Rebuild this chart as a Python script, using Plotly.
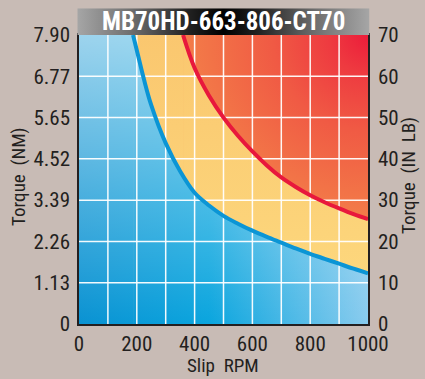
import base64
import plotly.graph_objects as go

# ---- data ----
rpm_blue = [187, 200, 225, 250, 300, 350, 400, 450, 500, 550, 600, 650, 700, 750, 800, 850, 900, 950, 1000]
torque_blue = [70, 66.3, 59.2, 53.0, 43.8, 37.0, 31.8, 28.7, 26.2, 24.3, 22.6, 21.1, 19.7, 18.3, 17.0, 15.8, 14.6, 13.4, 12.3]
rpm_red = [360, 400, 450, 500, 550, 600, 650, 700, 750, 800, 850, 900, 950, 1000]
torque_red = [70, 62.0, 55.3, 50.0, 45.6, 41.8, 38.4, 35.5, 33.2, 31.2, 29.5, 28.0, 26.6, 25.4]

x_ticks = [0, 200, 400, 600, 800, 1000]
x_grid = [0, 100, 200, 300, 400, 500, 600, 700, 800, 900, 1000]
y_ticks = [0, 10, 20, 30, 40, 50, 60, 70]
nm_labels = ["0", "1.13", "2.26", "3.39", "4.52", "5.65", "6.77", "7.90"]
inlb_labels = ["0", "10", "20", "30", "40", "50", "60", "70"]
chart_title = "MB70HD-663-806-CT70"
x_title = "Slip  RPM"
y_title_left = "Torque  (NM)"
y_title_right = "Torque  (IN  LB)"

X_MAX = x_grid[-1]
Y_MAX = y_ticks[-1]

FONT = "Roboto Condensed, Liberation Sans Narrow, DejaVu Sans Condensed, sans-serif"
INK = "#231f20"
BG = "#c8bbb5"

W, H = 425, 379
ML, MR, MT, MB = 79, 57, 35, 55
PW, PH = W - ML - MR, H - MT - MB


def px_x(px):
    return (px - ML) / PW


def px_y(py):
    return (H - MB - py) / PH


def svg_uri(svg):
    return "data:image/svg+xml;base64," + base64.b64encode(svg.encode()).decode()


plot_bg_svg = (
    "<svg xmlns='http://www.w3.org/2000/svg' width='300' height='300' viewBox='0 0 300 300' preserveAspectRatio='none'>"
    "<defs><radialGradient id='g' cx='1' cy='0' r='1.1' gradientUnits='objectBoundingBox'>"
    "<stop offset='0' stop-color='#ec1c3a'/>"
    "<stop offset='0.12' stop-color='#ee3a40'/>"
    "<stop offset='0.3' stop-color='#f05a44'/>"
    "<stop offset='0.5' stop-color='#f27347'/>"
    "<stop offset='0.65' stop-color='#f4854b'/>"
    "<stop offset='1' stop-color='#f7a055'/>"
    "</radialGradient></defs><rect width='300' height='300' fill='url(#g)'/></svg>"
)

title_svg = (
    "<svg xmlns='http://www.w3.org/2000/svg' width='300' height='30' viewBox='0 0 300 30' preserveAspectRatio='none'>"
    "<defs><linearGradient id='t' x1='0' y1='0' x2='1' y2='0'>"
    "<stop offset='0' stop-color='#a6a6a6'/>"
    "<stop offset='0.18' stop-color='#707070'/>"
    "<stop offset='0.38' stop-color='#222222'/>"
    "<stop offset='0.5' stop-color='#000000'/>"
    "<stop offset='0.62' stop-color='#222222'/>"
    "<stop offset='0.82' stop-color='#707070'/>"
    "<stop offset='1' stop-color='#a6a6a6'/>"
    "</linearGradient></defs><rect width='300' height='30' fill='url(#t)'/></svg>"
)

fig = go.Figure()

yellow_grad = dict(type="vertical", start=0, stop=Y_MAX,
                   colorscale=[[0, "#fdda7f"], [1, "#fac76f"]])
blue_grad = dict(type="horizontal", start=0, stop=X_MAX,
                 colorscale=[[0, "#0a92d2"], [0.45, "#0aa5de"], [1, "#88cbee"]])
white_grad = dict(type="vertical", start=0, stop=Y_MAX,
                  colorscale=[[0, "rgba(255,255,255,0)"], [1, "rgba(255,255,255,0.6)"]])

# yellow region (below red curve)
fig.add_trace(go.Scatter(x=[0, rpm_red[0]], y=[Y_MAX, Y_MAX], mode="lines", line=dict(width=0),
                         fill="tozeroy", fillgradient=yellow_grad, hoverinfo="skip", showlegend=False))
fig.add_trace(go.Scatter(x=rpm_red, y=torque_red, mode="lines", line=dict(width=0, shape="spline"),
                         fill="tozeroy", fillgradient=yellow_grad, hoverinfo="skip", showlegend=False))
# blue region (below blue curve)
for grad in (blue_grad, white_grad):
    fig.add_trace(go.Scatter(x=[0, rpm_blue[0]], y=[Y_MAX, Y_MAX], mode="lines", line=dict(width=0),
                             fill="tozeroy", fillgradient=grad, hoverinfo="skip", showlegend=False))
    fig.add_trace(go.Scatter(x=rpm_blue, y=torque_blue, mode="lines", line=dict(width=0, shape="spline"),
                             fill="tozeroy", fillgradient=grad, hoverinfo="skip", showlegend=False))

# white grid above the fills
gx, gy = [], []
for g in x_grid[1:-1]:
    gx += [g, g, None]
    gy += [0, Y_MAX, None]
for t in y_ticks[1:-1]:
    gx += [0, X_MAX, None]
    gy += [t, t, None]
fig.add_trace(go.Scatter(x=gx, y=gy, mode="lines", line=dict(color="rgba(255,255,255,0.95)", width=1.5),
                         hoverinfo="skip", showlegend=False))

# curves
fig.add_trace(go.Scatter(x=rpm_blue, y=torque_blue, mode="lines",
                         line=dict(color="#0b95d5", width=4, shape="spline"), showlegend=False))
fig.add_trace(go.Scatter(x=rpm_red, y=torque_red, mode="lines",
                         line=dict(color="#e8183c", width=4, shape="spline"), showlegend=False))
# invisible trace for the right axis
fig.add_trace(go.Scatter(x=[0], y=[0], yaxis="y2", mode="markers", marker=dict(opacity=0),
                         hoverinfo="skip", showlegend=False))

axis_common = dict(showgrid=False, zeroline=False, showline=True, linecolor=INK, linewidth=1.5,
                   tickfont=dict(family=FONT, size=21, color=INK), ticks="outside",
                   tickcolor="rgba(0,0,0,0)", automargin=False)

title_font = dict(family=FONT, size=19, color=INK)

fig.update_layout(
    width=W, height=H,
    margin=dict(l=ML, r=MR, t=MT, b=MB, pad=0, autoexpand=False),
    paper_bgcolor=BG,
    plot_bgcolor="#f3824a",
    xaxis=dict(range=[0, X_MAX], tickvals=x_ticks, mirror=True, ticklen=0, **axis_common),
    yaxis=dict(range=[0, Y_MAX], tickvals=y_ticks, ticktext=nm_labels, mirror=True, ticklen=3,
               **axis_common),
    yaxis2=dict(range=[0, Y_MAX], tickvals=y_ticks, ticktext=inlb_labels, overlaying="y", side="right",
                ticklen=4, **axis_common),
    images=[
        dict(source=svg_uri(plot_bg_svg), xref="x", yref="y", x=0, y=Y_MAX, sizex=X_MAX, sizey=Y_MAX,
             xanchor="left", yanchor="top", sizing="stretch", layer="below"),
        dict(source=svg_uri(title_svg), xref="paper", yref="paper", x=px_x(77.3), y=px_y(8.3),
             sizex=(369.5 - 77.3) / PW, sizey=(35 - 8.3) / PH, xanchor="left", yanchor="top",
             sizing="stretch", layer="above"),
    ],
    annotations=[
        dict(text=chart_title, xref="paper", yref="paper", x=px_x(223), y=px_y(21.5), showarrow=False,
             xanchor="center", yanchor="middle",
             font=dict(family=FONT, size=25, color="white", weight="bold")),
        dict(text=x_title, xref="paper", yref="paper", x=px_x(223), y=px_y(365), showarrow=False,
             xanchor="center", yanchor="middle", font=title_font),
        dict(text=y_title_left, xref="paper", yref="paper", x=px_x(18), y=px_y(177), showarrow=False,
             xanchor="center", yanchor="middle", textangle=-90, font=title_font),
        dict(text=y_title_right, xref="paper", yref="paper", x=px_x(408), y=px_y(175), showarrow=False,
             xanchor="center", yanchor="middle", textangle=-90, font=title_font),
    ],
)

fig.write_html(
    "out.html",
    config={"displayModeBar": False},
    post_script="document.body.style.margin='0px';document.body.style.background='" + BG + "';",
)
